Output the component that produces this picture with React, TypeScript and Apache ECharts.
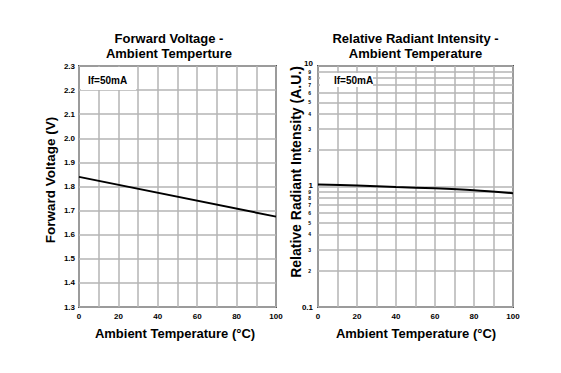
import React, { useEffect, useRef } from 'react';
import * as echarts from 'echarts';

const FONT = '"Liberation Sans", Arial, sans-serif';

// Left chart: Forward Voltage vs Ambient Temperature
const vfTemps = [0, 100];
const vfValues = [1.84, 1.675];

// Right chart: Relative Radiant Intensity vs Ambient Temperature
const irTemps = [0, 20, 40, 60, 80, 100];
const irValues = [1.04, 1.02, 0.99, 0.965, 0.93, 0.88];

// Minor log gridlines (labelled with their leading digit)
const logMinorLines = [2, 3, 4, 5, 6, 7, 8, 9, 0.2, 0.3, 0.4, 0.5, 0.6, 0.7, 0.8, 0.9];

const GRID_COLOR = '#b4b4b4';
const FRAME_COLOR = '#505050';

export default function App() {
  const ref = useRef<HTMLDivElement>(null);
  useEffect(() => {
    if (!ref.current) return;
    document.body.style.margin = '0';
    const chart = echarts.init(ref.current, undefined, { renderer: 'svg' });
    const labelStyle = { fontSize: 8, fontWeight: 'bold' as const, color: '#000', fontFamily: FONT };
    const xAxisBase = {
      type: 'value' as const,
      min: 0,
      max: 100,
      interval: 10,
      axisLine: { show: false },
      axisTick: { show: false },
      splitLine: { show: true, lineStyle: { color: GRID_COLOR, width: 1.5 } },
      axisLabel: {
        ...labelStyle,
        margin: 5,
        formatter: (v: number) => (Math.round(v) % 20 === 0 ? String(Math.round(v)) : ''),
      },
    };
    chart.setOption({
      animation: false,
      grid: [
        { left: 79, top: 66, width: 197, height: 241, show: true, borderColor: FRAME_COLOR, borderWidth: 2, backgroundColor: 'transparent' },
        { left: 318, top: 66, width: 195, height: 241, show: true, borderColor: FRAME_COLOR, borderWidth: 2, backgroundColor: 'transparent' },
      ],
      xAxis: [
        { ...xAxisBase, gridIndex: 0 },
        { ...xAxisBase, gridIndex: 1 },
      ],
      yAxis: [
        {
          gridIndex: 0,
          type: 'value',
          min: 1.3,
          max: 2.3,
          interval: 0.1,
          axisLine: { show: false },
          axisTick: { show: false },
          splitLine: { show: true, lineStyle: { color: GRID_COLOR, width: 1.5 } },
          axisLabel: { ...labelStyle, margin: 4, formatter: (v: number) => v.toFixed(1) },
        },
        {
          gridIndex: 1,
          type: 'log',
          logBase: 10,
          min: 0.1,
          max: 10,
          axisLine: { show: false },
          axisTick: { show: false },
          splitLine: { show: true, lineStyle: { color: GRID_COLOR, width: 1.5 } },
          axisLabel: {
            ...labelStyle,
            margin: 5,
            formatter: (v: number) => {
              if (v < 0.5) return '0.1';
              const r = Math.round(v);
              return r === 10 ? '{hi|10}' : r === 1 ? '{lo|1}' : String(r);
            },
            rich: {
              hi: { ...labelStyle, padding: [0, 0, 5, 0] },
              lo: { ...labelStyle, padding: [0, 0, 3, 0] },
            },
          },
        },
      ],
      series: [
        {
          type: 'line',
          xAxisIndex: 0,
          yAxisIndex: 0,
          data: vfTemps.map((t, i) => [t, vfValues[i]]),
          showSymbol: false,
          lineStyle: { color: '#000', width: 2 },
          silent: true,
          z: 5,
        },
        {
          type: 'line',
          xAxisIndex: 1,
          yAxisIndex: 1,
          data: irTemps.map((t, i) => [t, irValues[i]]),
          showSymbol: false,
          smooth: 0.3,
          lineStyle: { color: '#000', width: 2 },
          silent: true,
          z: 5,
          markLine: {
            silent: true,
            symbol: ['none', 'none'],
            animation: false,
            lineStyle: { color: GRID_COLOR, width: 1.5, type: 'solid' },
            label: {
              show: true,
              position: 'start',
              distance: 7,
              fontSize: 5,
              fontWeight: 'bold',
              color: '#000',
              fontFamily: FONT,
              formatter: (p: any) => String(Math.round(p.value >= 1 ? p.value : p.value * 10)),
            },
            data: logMinorLines.map((v) => ({ yAxis: v })),
            z: 1,
          },
        },
      ],
      graphic: [
        { type: 'text', x: 169, y: 38.5, z: 100, style: { text: 'Forward Voltage -', fontSize: 13, fontWeight: 'bold', fill: '#000', fontFamily: FONT, align: 'center', verticalAlign: 'middle' } },
        { type: 'text', x: 169, y: 53.5, z: 100, style: { text: 'Ambient Temperture', fontSize: 13, fontWeight: 'bold', fill: '#000', fontFamily: FONT, align: 'center', verticalAlign: 'middle' } },
        { type: 'text', x: 415.5, y: 38.5, z: 100, style: { text: 'Relative Radiant Intensity -', fontSize: 13, fontWeight: 'bold', fill: '#000', fontFamily: FONT, align: 'center', verticalAlign: 'middle' } },
        { type: 'text', x: 415.5, y: 53.5, z: 100, style: { text: 'Ambient Temperature', fontSize: 13, fontWeight: 'bold', fill: '#000', fontFamily: FONT, align: 'center', verticalAlign: 'middle' } },
        { type: 'text', x: 175, y: 333.5, z: 100, style: { text: 'Ambient Temperature (°C)', fontSize: 13, fontWeight: 'bold', fill: '#000', fontFamily: FONT, align: 'center', verticalAlign: 'middle' } },
        { type: 'text', x: 416, y: 333.5, z: 100, style: { text: 'Ambient Temperature (°C)', fontSize: 13, fontWeight: 'bold', fill: '#000', fontFamily: FONT, align: 'center', verticalAlign: 'middle' } },
        { type: 'text', x: 50, y: 180, rotation: Math.PI / 2, z: 100, style: { text: 'Forward Voltage (V)', fontSize: 13.5, fontWeight: 'bold', fill: '#000', fontFamily: FONT, align: 'center', verticalAlign: 'middle' } },
        { type: 'text', x: 296, y: 172, rotation: Math.PI / 2, z: 100, style: { text: 'Relative Radiant Intensity (A.U.)', fontSize: 14, fontWeight: 'bold', fill: '#000', fontFamily: FONT, align: 'center', verticalAlign: 'middle' } },
        { type: 'rect', z: 90, shape: { x: 81, y: 67, width: 55, height: 23 }, style: { fill: '#fff' } },
        { type: 'text', x: 88, y: 80, z: 100, style: { text: 'If=50mA', fontSize: 10, fontWeight: 'bold', fill: '#000', fontFamily: FONT, align: 'left', verticalAlign: 'middle' } },
        { type: 'rect', z: 90, shape: { x: 320, y: 73, width: 53, height: 14 }, style: { fill: '#fff' } },
        { type: 'text', x: 334, y: 80, z: 100, style: { text: 'If=50mA', fontSize: 10, fontWeight: 'bold', fill: '#000', fontFamily: FONT, align: 'left', verticalAlign: 'middle' } },
      ],
    });
    return () => chart.dispose();
  }, []);
  return <div ref={ref} style={{ width: 561, height: 373 }} />;
}
